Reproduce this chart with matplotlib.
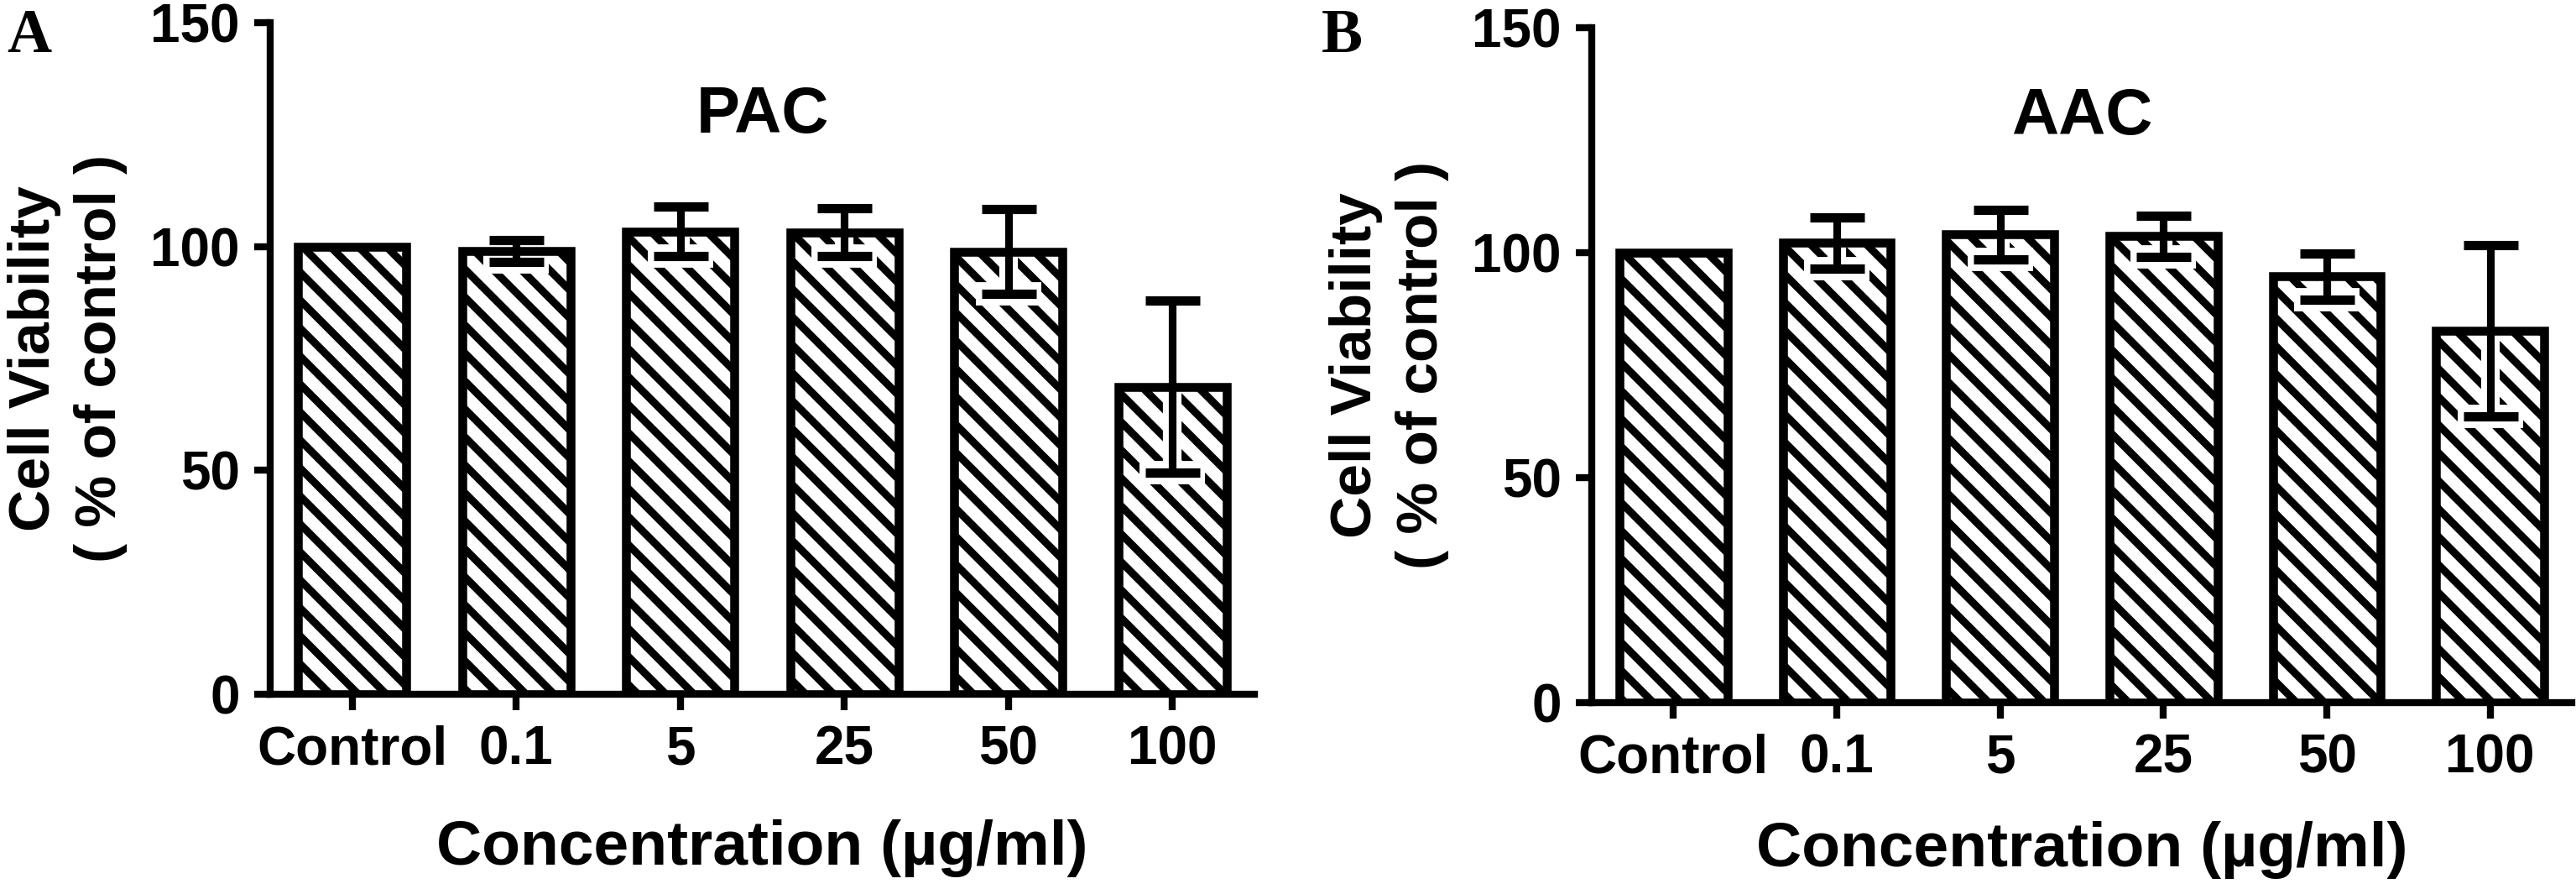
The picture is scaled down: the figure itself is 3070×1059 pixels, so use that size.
import numpy as np
import matplotlib
matplotlib.use("Agg")
import matplotlib.pyplot as plt

# data (% of control, mean and error)
categories = ["Control", "0.1", "5", "25", "50", "100"]
pac_mean = [100.0, 99.0, 103.4, 103.2, 98.9, 68.7]
pac_err = [0.0, 2.5, 5.5, 5.4, 9.4, 19.2]
aac_mean = [100.0, 102.2, 104.1, 103.7, 94.7, 82.7]
aac_err = [0.0, 5.7, 5.5, 4.6, 5.2, 19.0]
yticks = [0, 50, 100, 150]

plt.rcParams["font.family"] = ["Liberation Sans", "DejaVu Sans"]
plt.rcParams["font.weight"] = "bold"
plt.rcParams["hatch.linewidth"] = 3.3
plt.rcParams["hatch.color"] = "black"

DPI = 200
fig = plt.figure(figsize=(3070 / DPI, 1059 / DPI), dpi=DPI)


def panel(rect, means, errs, title, title_y, xpad):
    ax = fig.add_axes(rect)
    x = np.arange(len(categories))
    means = np.asarray(means)
    errs = np.asarray(errs)

    # hatched fill without outline
    ax.bar(x, means, width=0.66, color="white", edgecolor="black",
           hatch="\\\\", linewidth=0, zorder=2)

    m = errs > 0
    # white halo so the hatch is cut around the error bar
    ax.errorbar(x[m], means[m], yerr=errs[m], fmt="none", ecolor="white",
                elinewidth=8, capsize=14, capthick=10, zorder=3)
    ax.errorbar(x[m], means[m], yerr=errs[m], fmt="none", ecolor="black",
                elinewidth=3.3, capsize=11.7, capthick=4, zorder=4)

    # bar outlines on top
    ax.bar(x, means, width=0.66, fill=False, edgecolor="black",
           linewidth=3.8, zorder=5)

    ax.set_xlim(-0.5, 5.5)
    ax.set_ylim(0, 150)
    ax.set_yticks(yticks)
    ax.set_xticks(x)
    ax.set_xticklabels(categories)
    for s in ["top", "right"]:
        ax.spines[s].set_visible(False)
    for s in ["left", "bottom"]:
        ax.spines[s].set_linewidth(3)
    ax.tick_params(axis="both", width=3, length=7, labelsize=23, pad=6)

    ax.set_ylabel("Cell Viability\n( % of control )", fontsize=25,
                  fontweight="bold", labelpad=10, linespacing=1.3)
    ax.set_xlabel("Concentration (µg/ml)", fontsize=27, fontweight="bold",
                  labelpad=xpad)
    ax.text(0.5, title_y, title, transform=ax.transAxes, ha="center",
            va="baseline", fontsize=28, fontweight="bold")
    return ax


panel([0.1049, 0.2191, 0.3821, 0.7554], pac_mean, pac_err, "PAC", 0.836, 19)
panel([0.6179, 0.2096, 0.3805, 0.7592], aac_mean, aac_err, "AAC", 0.842, 16)

for xp, lab in [(8 / 3070, "A"), (1575 / 3070, "B")]:
    fig.text(xp, 1 - 10 / 1059, lab, ha="left", va="top", fontsize=26.5,
             fontweight="bold", family=["Liberation Serif", "DejaVu Serif"])

fig.savefig("out.png", dpi=DPI)
